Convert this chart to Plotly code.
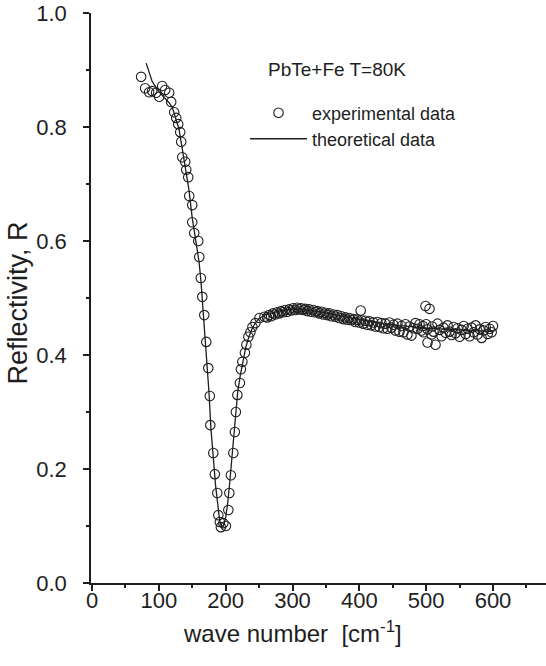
import plotly.graph_objects as go

exp_w = [73.5, 79.5, 85.5, 90, 96, 100.5, 105, 109.5, 115.5, 118.5, 123, 126, 129, 132, 133.5,
         135, 139.5, 141, 144, 145.5, 150, 150, 153, 159, 160.5, 162.8, 165, 168, 171, 174,
         176.3, 177, 181.5, 183.8, 187.5, 189, 191.3, 192.8, 196.5, 200.3, 204, 205.5, 207.8,
         211.5, 213.8, 215.3, 217.5, 221.3, 222.8, 225, 228.8, 231, 234, 237, 240, 244.5,
         250.5, 258,
         262, 265, 268, 271, 274, 277, 280, 283, 286, 289, 292, 295, 298, 301, 304, 307, 310,
         313, 316, 319, 322, 325, 328, 331, 334, 337, 340, 343, 346, 349, 352, 355, 358, 361,
         364, 367, 370, 373, 376, 379, 382, 385, 388, 391, 394, 397, 400, 402, 403, 406, 409,
         412, 415, 418, 421, 424, 427, 430, 433, 436, 439, 442, 445, 448, 451, 454, 457, 460,
         463, 466, 469, 472, 475, 478, 481, 484, 487, 490, 493, 495, 496, 499, 500, 502, 502,
         505, 508, 509, 511, 514, 517, 520, 523, 526, 529, 532, 535, 538, 541, 544, 547, 550,
         553, 556, 559, 562, 565, 568, 571, 574, 577, 580, 583, 586, 589, 592, 595, 598, 600]
exp_R = [0.888, 0.868, 0.861, 0.863, 0.860, 0.853, 0.872, 0.865, 0.860, 0.844, 0.826, 0.816,
         0.805, 0.791, 0.774, 0.747, 0.739, 0.725, 0.712, 0.679, 0.663, 0.633, 0.614, 0.600,
         0.572, 0.535, 0.502, 0.470, 0.423, 0.377, 0.328, 0.277, 0.228, 0.191, 0.158, 0.119,
         0.107, 0.098, 0.105, 0.100, 0.128, 0.158, 0.189, 0.228, 0.265, 0.300, 0.330, 0.351,
         0.375, 0.388, 0.404, 0.418, 0.432, 0.440, 0.449, 0.456, 0.465, 0.467,
         0.466, 0.470, 0.468, 0.473, 0.471, 0.475, 0.473, 0.477, 0.475, 0.479, 0.476, 0.480,
         0.478, 0.482, 0.479, 0.483, 0.480, 0.482, 0.479, 0.481, 0.477, 0.480, 0.476, 0.479,
         0.475, 0.477, 0.473, 0.476, 0.471, 0.474, 0.470, 0.473, 0.468, 0.471, 0.467, 0.470,
         0.465, 0.468, 0.463, 0.466, 0.462, 0.465, 0.461, 0.463, 0.458, 0.462, 0.457, 0.478,
         0.461, 0.455, 0.460, 0.453, 0.459, 0.452, 0.457, 0.450, 0.458, 0.449, 0.456, 0.447,
         0.455, 0.446, 0.457, 0.448, 0.453, 0.443, 0.455, 0.441, 0.451, 0.440, 0.454, 0.436,
         0.450, 0.434, 0.447, 0.456, 0.446, 0.454, 0.443, 0.451, 0.440, 0.486, 0.454, 0.445,
         0.422, 0.481, 0.436, 0.450, 0.441, 0.418, 0.455, 0.444, 0.433, 0.448, 0.439, 0.452,
         0.441, 0.435, 0.449, 0.438, 0.447, 0.432, 0.444, 0.451, 0.437, 0.446, 0.433, 0.448,
         0.440, 0.452, 0.436, 0.445, 0.430, 0.443, 0.449, 0.437, 0.446, 0.440, 0.451, 0.461, 0.438]

# Theoretical curve
th_w = [81, 90, 100, 110, 115, 120, 125, 130, 135, 140, 145, 150, 155, 160, 163, 166, 169, 172,
        175, 178, 182, 185, 188, 191, 194, 197, 200, 203, 206, 209, 212, 215, 218, 222, 226,
        230, 235, 240, 245, 250, 260, 280, 300, 320, 350, 400, 450, 500, 550, 600]
th_R = [0.912, 0.880, 0.862, 0.850, 0.843, 0.835, 0.815, 0.797, 0.762, 0.728, 0.690, 0.640,
        0.600, 0.565, 0.530, 0.485, 0.440, 0.390, 0.335, 0.270, 0.210, 0.170, 0.140, 0.110,
        0.097, 0.100, 0.115, 0.140, 0.175, 0.215, 0.260, 0.300, 0.335, 0.365, 0.393, 0.413,
        0.433, 0.447, 0.457, 0.464, 0.471, 0.477, 0.481, 0.480, 0.474, 0.462, 0.453, 0.447,
        0.444, 0.441]

x_ticks = [0, 100, 200, 300, 400, 500, 600]
y_ticks = [0.0, 0.2, 0.4, 0.6, 0.8, 1.0]

INK = "#1e1e1e"
FONT = "Liberation Sans, Arial, sans-serif"

fig = go.Figure()
fig.add_trace(go.Scatter(
    x=exp_w, y=exp_R, mode="markers", name="experimental data", legend="legend",
    marker=dict(symbol="circle-open", size=9.5, color=INK, line=dict(width=1.1, color=INK)),
))
fig.add_trace(go.Scatter(
    x=th_w, y=th_R, mode="lines", name="theoretical data", legend="legend2",
    line=dict(color=INK, width=1.3),
))

axis_common = dict(
    showline=True, linecolor=INK, linewidth=1.5, mirror=False,
    ticks="outside", ticklen=6, tickwidth=1.5, tickcolor=INK,
    showgrid=False, zeroline=False,
    tickfont=dict(family=FONT, size=22, color=INK),
)
fig.update_xaxes(range=[-1.5, 679.3], tickvals=x_ticks, ticklabelstandoff=-9,
                 minor=dict(ticks="outside", ticklen=3, tickwidth=1.5, tickcolor=INK, dtick=50, tick0=0),
                 **axis_common)
fig.update_yaxes(range=[0, 1.0], tickvals=y_ticks, tickformat=".1f", ticklabelstandoff=12,
                 minor=dict(ticks="outside", ticklen=3, tickwidth=1.5, tickcolor=INK, dtick=0.1, tick0=0),
                 **axis_common)

leg_common = dict(xanchor="left", yanchor="middle", itemwidth=57,
                  font=dict(family=FONT, size=18, color=INK),
                  bgcolor="rgba(0,0,0,0)", borderwidth=0)

fig.update_layout(
    width=546, height=666, autosize=False,
    margin=dict(l=91, r=0, t=13, b=83, pad=0),
    plot_bgcolor="white", paper_bgcolor="white",
    font=dict(family=FONT, color=INK),
    showlegend=True,
    legend=dict(x=0.3385, y=0.8246, **leg_common),
    legend2=dict(x=0.3385, y=0.7789, **leg_common),
    annotations=[
        dict(text="PbTe+Fe T=80K", xref="paper", yref="paper", x=0.5396, y=0.9,
             xanchor="center", yanchor="middle", showarrow=False,
             font=dict(family=FONT, size=19, color=INK)),
        dict(text="wave number  [cm<sup>-1</sup>]", xref="x", yref="paper", x=300, y=0,
             xanchor="center", yanchor="middle", yshift=-49, showarrow=False,
             font=dict(family=FONT, size=24, color=INK)),
        dict(text="Reflectivity, R", xref="paper", yref="paper", x=0, y=0.4904,
             xanchor="center", yanchor="middle", xshift=-73, textangle=-90, showarrow=False,
             font=dict(family=FONT, size=27, color=INK)),
    ],
)

# remove the browser's default 8px page margin so the figure sits at the window's corner
fig.write_html("out.html", config={"displayModeBar": False},
               post_script="document.body.style.margin='0px';")
